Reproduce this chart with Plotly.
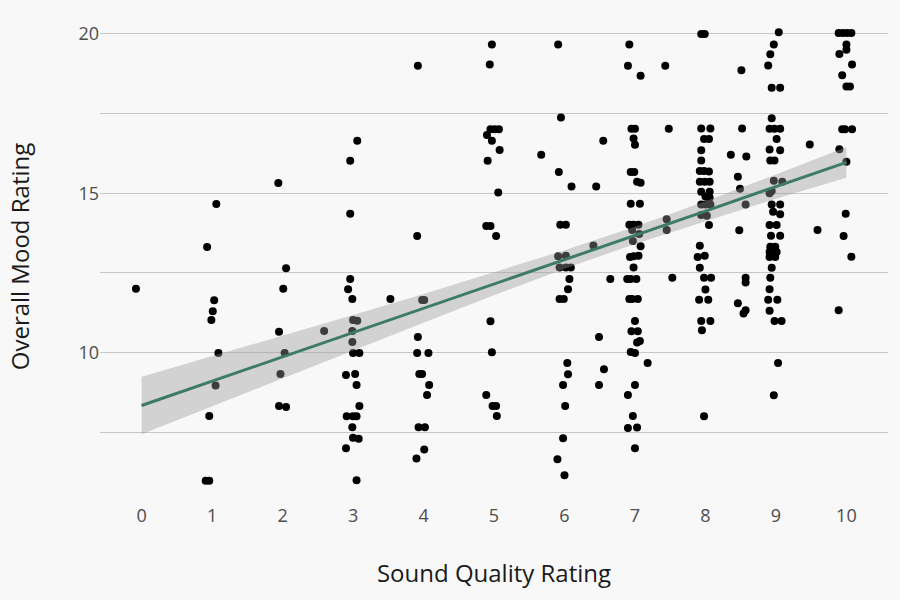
import plotly.graph_objects as go

# Jittered positions as plotted (Sound Quality Rating, Overall Mood Rating)
sound_quality = [
    -0.08,
    1.06, 0.93, 1.03, 1.01, 0.99, 1.09, 1.05, 0.96, 0.91, 0.96,
    1.94, 2.05, 2.01, 1.95, 2.03, 1.97, 1.95, 2.05,
    2.59,
    2.96, 2.93, 2.99, 3.00, 3.06, 2.99, 2.99, 3.00, 3.09, 2.90, 3.03, 3.05, 3.09, 2.91, 3.00, 3.05,
    2.99, 3.00, 3.08, 2.90, 3.05, 3.06, 2.96, 2.96,
    3.53,
    3.92, 3.91, 3.98, 4.01, 3.92, 3.91, 4.07, 3.94, 3.98, 4.08, 4.05, 3.93, 4.02, 4.01, 3.90,
    4.97, 4.94, 4.95, 5.01, 5.07, 4.90, 4.97, 5.08, 4.91, 5.06, 4.89, 4.95, 5.03, 4.95, 4.97,
    4.89, 4.98, 5.03, 5.04,
    5.67, 5.91, 5.95, 5.92, 6.10, 5.94, 6.02, 5.91, 6.02, 5.93, 6.02, 6.09, 6.07, 6.05, 5.93,
    5.99, 6.04, 6.05, 5.98, 6.01, 5.98, 5.90, 6.00,
    6.45, 6.41, 6.55, 6.65, 6.49, 6.56, 6.49,
    6.92, 6.90, 7.08, 6.95, 7.00, 6.98, 7.00, 6.94, 6.99, 7.03, 7.08, 6.94, 7.07, 6.92, 6.98,
    7.05, 6.96, 7.06, 6.97, 7.08, 6.93, 6.98, 7.05, 6.98, 6.89, 6.94, 7.02, 6.92, 6.96, 7.04,
    7.00, 6.95, 7.04, 7.03, 7.07, 6.94, 7.00, 7.18, 7.00, 6.90, 6.97, 6.90, 7.03, 7.00,
    7.43, 7.48, 7.45, 7.45, 7.53,
    7.94, 7.99, 7.94, 8.07, 7.98, 8.05, 7.94, 7.94, 7.92, 7.98, 8.05, 7.92, 7.99, 8.06, 7.94,
    8.06, 8.00, 8.06, 7.94, 8.00, 8.07, 7.94, 8.02, 8.05, 7.92, 7.89, 7.99, 7.92, 7.98, 8.08,
    8.00, 7.91, 8.04, 7.94, 8.07, 7.95, 7.98,
    8.51, 8.52, 8.36, 8.58, 8.46, 8.49, 8.57, 8.48, 8.57, 8.57, 8.46, 8.57, 8.54,
    9.04, 8.97, 8.92, 8.89, 8.94, 9.06, 8.94, 8.91, 8.98, 9.06, 9.01, 8.91, 9.06, 8.92, 8.98,
    8.97, 9.09, 8.91, 8.94, 8.94, 9.06, 8.96, 9.06, 8.91, 9.01, 8.93, 9.06, 8.92, 8.99, 8.91,
    9.01, 8.91, 8.99, 8.94, 8.92, 8.91, 8.89, 9.02, 8.91, 8.98, 9.08, 9.03, 8.97,
    9.48, 9.59,
    9.89, 9.95, 10.01, 10.07, 10.00, 10.00, 9.90, 10.08, 9.94, 10.00, 10.05, 9.94, 9.98, 10.08,
    9.90, 10.00, 9.99, 9.96, 10.07, 9.89,
]
mood_rating = [
    12.00,
    14.66, 13.31, 11.64, 11.30, 11.02, 9.99, 8.97, 8.01, 5.98, 5.98,
    15.32, 12.65, 12.00, 10.65, 9.99, 9.33, 8.32, 8.29,
    10.68,
    12.31, 11.99, 11.68, 11.02, 11.00, 10.68, 10.33, 9.99, 9.99, 9.30, 9.33, 8.98, 8.32, 8.00, 8.00, 8.00,
    7.66, 7.33, 7.30, 7.00, 5.99, 16.65, 16.02, 14.36,
    11.68,
    19.00, 13.66, 11.65, 11.65, 10.49, 9.99, 9.99, 9.33, 9.33, 8.98, 8.67, 7.66, 7.66, 6.96, 6.68,
    19.67, 19.04, 17.01, 17.01, 17.01, 16.83, 16.65, 16.36, 16.02, 15.02, 13.97, 13.97, 13.66, 10.98, 10.01,
    8.67, 8.32, 8.32, 8.01,
    16.21, 19.67, 17.38, 15.67, 15.21, 14.01, 14.01, 13.02, 13.04, 12.67, 12.67, 12.67, 12.31, 11.99, 11.68,
    11.68, 9.67, 9.32, 8.98, 8.32, 7.31, 6.65, 6.15,
    15.21, 13.36, 16.65, 12.31, 10.49, 9.48, 8.98,
    19.67, 19.00, 18.69, 17.02, 17.02, 16.72, 16.52, 15.67, 15.67, 15.36, 15.33, 14.67, 14.67, 14.01, 14.01,
    14.01, 13.85, 13.72, 13.50, 13.34, 13.00, 13.02, 13.04, 12.67, 12.31, 12.31, 12.31, 11.68, 11.68, 11.68,
    10.99, 10.67, 10.67, 10.32, 10.36, 10.02, 9.99, 9.67, 8.98, 8.67, 8.01, 7.63, 7.65, 7.00,
    19.00, 17.02, 14.18, 13.85, 12.35,
    20.00, 20.00, 17.03, 17.03, 16.70, 16.70, 16.35, 16.03, 15.70, 15.70, 15.68, 15.36, 15.36, 15.36, 15.05,
    15.05, 14.90, 14.86, 14.65, 14.65, 14.65, 14.32, 14.29, 14.00, 13.35, 13.00, 13.04, 12.66, 12.35, 12.35,
    11.98, 11.66, 11.66, 10.99, 10.99, 10.70, 8.00,
    18.86, 17.03, 16.21, 16.15, 15.52, 15.14, 14.65, 13.84, 12.35, 12.20, 11.55, 11.33, 11.23,
    20.05, 19.67, 19.36, 19.01, 18.31, 18.31, 17.35, 17.02, 17.02, 17.02, 16.70, 16.37, 16.35, 16.03, 16.03,
    15.39, 15.36, 15.00, 15.07, 14.65, 14.65, 14.42, 14.34, 14.00, 14.00, 13.67, 13.67, 13.32, 13.32, 13.16,
    13.16, 13.00, 13.00, 12.66, 12.35, 11.99, 11.66, 11.66, 11.31, 10.99, 10.99, 9.67, 8.66,
    16.53, 13.85,
    20.03, 20.03, 20.03, 20.03, 19.67, 19.50, 19.37, 19.04, 18.70, 18.35, 18.35, 17.01, 17.01, 17.01,
    16.38, 15.99, 14.36, 13.66, 13.01, 11.33,
]

# Fitted regression line and confidence band
fit_x = [0, 1, 2, 3, 4, 5, 6, 7, 8, 9, 10]
fit_y = [8.34, 9.10, 9.87, 10.63, 11.39, 12.16, 12.92, 13.68, 14.44, 15.21, 15.97]
fit_lo = [7.44, 8.32, 9.20, 10.08, 10.94, 11.80, 12.63, 13.41, 14.13, 14.83, 15.49]
fit_hi = [9.24, 9.88, 10.54, 11.18, 11.84, 12.52, 13.21, 13.95, 14.75, 15.59, 16.45]

x_ticks = [0, 1, 2, 3, 4, 5, 6, 7, 8, 9, 10]

fig = go.Figure()
fig.add_trace(go.Scatter(
    x=sound_quality, y=mood_rating, mode="markers",
    marker=dict(color="black", size=8, line=dict(width=0)),
    hoverinfo="skip", showlegend=False))
fig.add_trace(go.Scatter(
    x=fit_x, y=fit_lo, mode="lines", line=dict(width=0, color="rgba(0,0,0,0)"),
    hoverinfo="skip", showlegend=False))
fig.add_trace(go.Scatter(
    x=fit_x, y=fit_hi, mode="lines", line=dict(width=0, color="rgba(0,0,0,0)"),
    fill="tonexty", fillcolor="rgba(153,153,153,0.4)",
    hoverinfo="skip", showlegend=False))
fig.add_trace(go.Scatter(
    x=fit_x, y=fit_y, mode="lines", line=dict(width=3, color="#3e7a68"),
    hoverinfo="skip", showlegend=False))

grid_col = "#cbc7c2"
fig.update_layout(
    width=900, height=600,
    paper_bgcolor="#f8f8f8", plot_bgcolor="#f8f8f8",
    margin=dict(l=100, r=12, t=10, b=97),
    font=dict(family="Open Sans", size=18, color="#4d4d4d"),
    xaxis=dict(
        range=[-0.59, 10.59], tickvals=x_ticks, showgrid=False, zeroline=False,
        showline=False, ticks="",
        title=dict(text="Sound Quality Rating", standoff=39,
                   font=dict(size=24, color="#1a1a1a")),
    ),
    yaxis=dict(
        range=[5.28, 20.75], tick0=0, dtick=5, showgrid=True, gridcolor=grid_col,
        gridwidth=1, zeroline=False, showline=False, ticks="",
        minor=dict(dtick=2.5, tick0=0, showgrid=True, gridcolor=grid_col, gridwidth=1),
        title=dict(text="Overall Mood Rating", standoff=42,
                   font=dict(size=24, color="#1a1a1a")),
    ),
)

fig.write_html("out.html", config={"displayModeBar": False},
               post_script="document.body.style.margin='0';")
